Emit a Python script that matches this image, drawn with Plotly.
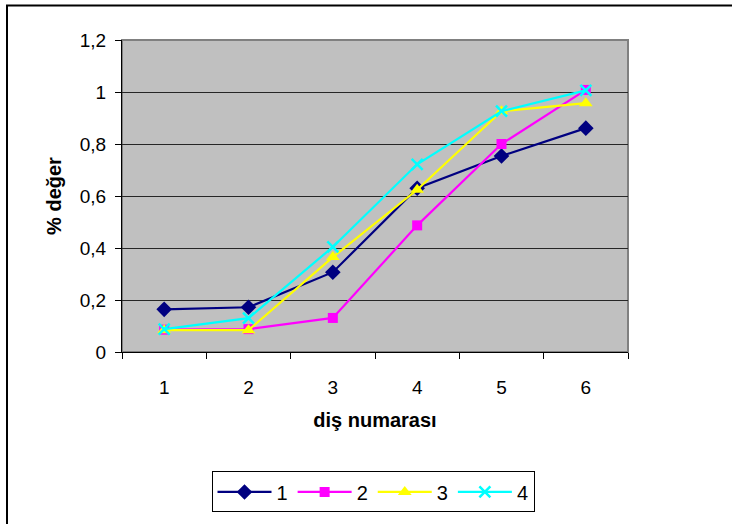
import plotly.graph_objects as go

categories = ["1", "2", "3", "4", "5", "6"]
series_names = ["1", "2", "3", "4"]
s1 = [0.164, 0.172, 0.307, 0.630, 0.754, 0.861]
s2 = [0.086, 0.088, 0.131, 0.487, 0.800, 1.008]
s3 = [0.084, 0.084, 0.365, 0.624, 0.926, 0.957]
s4 = [0.088, 0.130, 0.404, 0.722, 0.926, 1.006]
y_ticks = [0, 0.2, 0.4, 0.6, 0.8, 1.0, 1.2]
y_ticklabels = ["0", "0,2", "0,4", "0,6", "0,8", "1", "1,2"]

W, H = 732, 524
L, R, T, B = 122, 104, 40, 168
pw, ph = W - L - R, H - T - B

def px2paper_x(px):
    return (px - L) / pw

def px2paper_y(py):
    return (H - B - py) / ph

font_family = "Arial, Liberation Sans, sans-serif"

styles = [
    dict(color="#000080", symbol="diamond", size=12, lw=2.2),
    dict(color="#FF00FF", symbol="square", size=10, lw=2.2),
    dict(color="#FFFF00", symbol="triangle-up", size=12, lw=2.2),
    dict(color="#00FFFF", symbol="x-thin-open", size=11, lw=2.2),
]

fig = go.Figure()
for name, vals, st in zip(series_names, [s1, s2, s3, s4], styles):
    marker = dict(symbol=st["symbol"], size=st["size"], color=st["color"])
    if st["symbol"] == "x-thin-open":
        marker["line"] = dict(color=st["color"], width=2.5)
    else:
        marker["line"] = dict(color=st["color"], width=0)
    fig.add_trace(go.Scatter(
        x=categories, y=vals, name=name, mode="lines+markers",
        line=dict(color=st["color"], width=st["lw"]),
        marker=marker,
    ))

# outer frame
fig.add_shape(type="rect", xref="paper", yref="paper",
              x0=px2paper_x(7), x1=px2paper_x(760),
              y0=px2paper_y(560), y1=px2paper_y(5),
              line=dict(color="black", width=2), layer="below")
# plot-area border (gray)
fig.add_shape(type="rect", xref="paper", yref="paper",
              x0=0, x1=1, y0=0, y1=1,
              line=dict(color="#808080", width=2), layer="below")

fig.update_layout(
    width=W, height=H,
    margin=dict(l=L, r=R, t=T, b=B),
    paper_bgcolor="white",
    plot_bgcolor="#C0C0C0",
    font=dict(family=font_family, size=19, color="black"),
    showlegend=True,
    legend=dict(
        orientation="h", x=px2paper_x(373), xanchor="center",
        y=px2paper_y(477), yanchor="top",
        bordercolor="black", borderwidth=1, bgcolor="white",
        font=dict(size=20, family=font_family),
        itemwidth=54, tracegroupgap=0,
    ),
    xaxis=dict(
        type="category", range=[-0.5, 5.5],
        tickson="boundaries", ticks="outside", ticklen=6, tickcolor="black",
        showline=True, linecolor="black", linewidth=1,
        showgrid=False, zeroline=False,
        tickfont=dict(size=19), ticklabelstandoff=18,
        title=dict(text="<b>diş numarası</b>", font=dict(size=20), standoff=16),
    ),
    yaxis=dict(
        range=[0, 1.2], tickvals=y_ticks, ticktext=y_ticklabels,
        ticks="outside", ticklen=6, tickcolor="black",
        showline=True, linecolor="black", linewidth=1,
        showgrid=True, gridcolor="#262626", gridwidth=1.2,
        zeroline=False,
        tickfont=dict(size=19), ticklabelstandoff=5,
        title=dict(text="<b>% değer</b>", font=dict(size=20), standoff=12),
    ),
)

fig.write_html("out.html")
